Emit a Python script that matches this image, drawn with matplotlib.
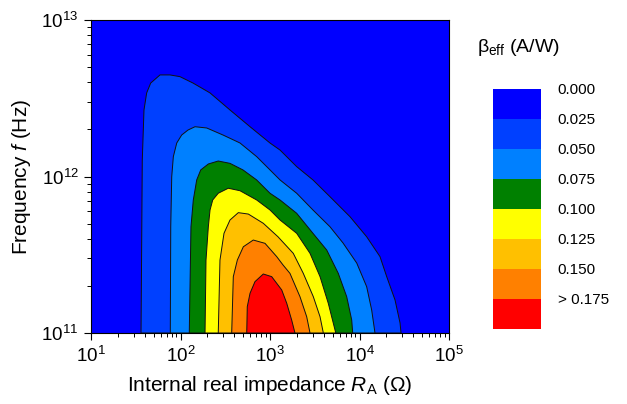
import numpy as np
import matplotlib
matplotlib.use("Agg")
import matplotlib.pyplot as plt

plt.rcParams['font.family'] = ['Liberation Sans', 'DejaVu Sans']
plt.rcParams['mathtext.fontset'] = 'custom'
plt.rcParams['mathtext.rm'] = 'Liberation Sans'
plt.rcParams['mathtext.it'] = 'Liberation Sans:italic'
plt.rcParams['mathtext.bf'] = 'Liberation Sans:bold'

# contour boundaries, as log10(R_A) and log10(f)
b025_logR = [1.559, 1.573, 1.592, 1.622, 1.667, 1.771, 1.883, 1.994, 2.140, 2.330, 2.553,
             2.777, 3.000, 3.112, 3.298, 3.480, 3.670, 3.894, 4.080, 4.229, 4.304, 4.397,
             4.453, 4.464]
b025_logf = [11.0, 12.105, 12.425, 12.534, 12.597, 12.649, 12.649, 12.638, 12.597, 12.534,
             12.425, 12.318, 12.214, 12.169, 12.063, 11.978, 11.871, 11.743, 11.615, 11.488,
             11.360, 11.211, 11.064, 11.0]

b050_logR = [1.886, 1.891, 1.902, 1.920, 1.958, 2.013, 2.084, 2.162, 2.293, 2.475, 2.665,
             2.851, 3.000, 3.112, 3.298, 3.480, 3.670, 3.816, 3.969, 4.080, 4.136, 4.173]
b050_logf = [11.0, 11.679, 11.999, 12.127, 12.214, 12.265, 12.297, 12.318, 12.310, 12.265,
             12.214, 12.127, 12.042, 11.978, 11.893, 11.786, 11.679, 11.575, 11.447, 11.296,
             11.147, 11.0]

b075_logR = [2.098, 2.117, 2.143, 2.181, 2.226, 2.311, 2.422, 2.553, 2.698, 2.851, 3.000,
             3.112, 3.298, 3.480, 3.634, 3.763, 3.857, 3.913, 3.924]
b075_logf = [11.0, 11.679, 11.850, 11.978, 12.042, 12.080, 12.099, 12.084, 12.042, 11.978,
             11.893, 11.850, 11.765, 11.637, 11.530, 11.381, 11.232, 11.083, 11.0]

b100_logR = [2.274, 2.285, 2.311, 2.330, 2.360, 2.422, 2.534, 2.665, 2.851, 3.000, 3.112,
             3.298, 3.447, 3.559, 3.651, 3.735]
b100_logf = [11.0, 11.466, 11.679, 11.786, 11.850, 11.893, 11.925, 11.909, 11.850, 11.786,
             11.722, 11.637, 11.509, 11.360, 11.190, 11.0]

b125_logR = [2.422, 2.441, 2.486, 2.553, 2.646, 2.758, 2.925, 3.089, 3.260, 3.372, 3.484,
             3.559, 3.596]
b125_logf = [11.0, 11.466, 11.637, 11.722, 11.769, 11.760, 11.701, 11.615, 11.509, 11.381,
             11.232, 11.104, 11.0]

b150_logR = [2.572, 2.590, 2.635, 2.702, 2.813, 2.944, 3.075, 3.145, 3.223, 3.335, 3.410,
             3.447]
b150_logf = [11.0, 11.360, 11.466, 11.551, 11.594, 11.573, 11.488, 11.435, 11.381, 11.232,
             11.104, 11.0]

b175_logR = [2.740, 2.746, 2.777, 2.832, 2.925, 3.019, 3.131, 3.187, 3.242, 3.279]
b175_logf = [11.0, 11.168, 11.254, 11.328, 11.377, 11.360, 11.275, 11.190, 11.083, 11.0]

band_labels = ["0.000", "0.025", "0.050", "0.075", "0.100", "0.125", "0.150", "> 0.175"]
band_colors = ["#0000FF", "#0040FF", "#0080FF", "#008000", "#FFFF00", "#FFC000", "#FF8000", "#FF0000"]

boundaries = [(b025_logR, b025_logf), (b050_logR, b050_logf), (b075_logR, b075_logf),
              (b100_logR, b100_logf), (b125_logR, b125_logf), (b150_logR, b150_logf),
              (b175_logR, b175_logf)]

fig = plt.figure(figsize=(6.27, 4.04), dpi=100)
ax = fig.add_axes([91 / 627, 71 / 404, 358 / 627, 313 / 404])
ax.set_xscale('log')
ax.set_yscale('log')
ax.set_facecolor(band_colors[0])

for (lr, lf), c in zip(boundaries, band_colors[1:]):
    ax.fill(10 ** np.array(lr), 10 ** np.array(lf), facecolor=c, edgecolor='#111111', linewidth=0.7)

ax.set_xlim(1e1, 1e5)
ax.set_ylim(1e11, 1e13)
ax.tick_params(which='major', direction='out', length=5, width=0.8, labelsize=13.5, pad=4)
ax.tick_params(which='minor', direction='out', length=3, width=0.7)
ax.tick_params(top=False, right=False)
for s in ax.spines.values():
    s.set_linewidth(0.8)

ax.set_xlabel(r"Internal real impedance $R_\mathrm{A}$ (Ω)", fontsize=15, labelpad=6)
ax.set_ylabel(r"Frequency $f$ (Hz)", fontsize=15, labelpad=6)

# legend bar
cax = fig.add_axes([493 / 627, 75 / 404, 48 / 627, 240 / 404])
pos = np.arange(len(band_colors))
cax.barh(pos, [1] * len(pos), height=1.0, color=band_colors, align='center')
cax.set_xlim(0, 1)
cax.set_ylim(len(pos) - 0.5, -0.5)
cax.set_xticks([])
cax.yaxis.tick_right()
cax.set_yticks(pos - 0.5)
cax.set_yticklabels(band_labels, fontsize=11)
cax.tick_params(axis='y', length=0, pad=12)
for s in cax.spines.values():
    s.set_visible(False)

fig.text(519 / 627, 1 - 48 / 404, r"β$_\mathrm{eff}$ (A/W)", fontsize=14,
         ha='center', va='center')

fig.savefig("out.png", dpi=100)
